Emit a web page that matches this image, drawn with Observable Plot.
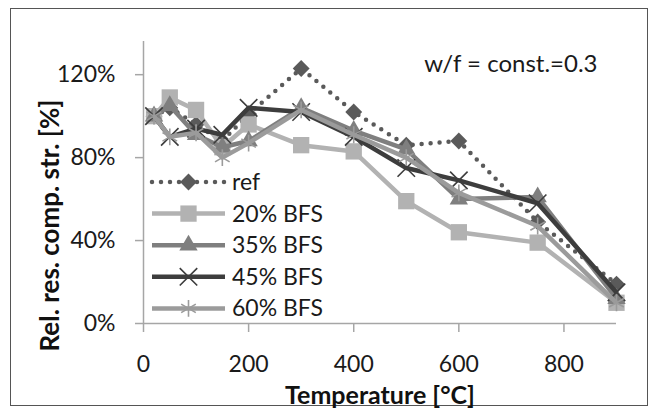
<!DOCTYPE html>
<html>
<head>
<meta charset="utf-8">
<script src="https://cdn.jsdelivr.net/npm/d3@7"></script>
<script src="https://cdn.jsdelivr.net/npm/@observablehq/plot@0.6"></script>
<style>
  html, body { margin: 0; padding: 0; background: #fff; }
  #wrap { position: relative; width: 655px; height: 414px; }
  #border { position: absolute; left: 10px; top: 8px; width: 636px; height: 396px; border: 1.5px solid #555; pointer-events: none; }
</style>
</head>
<body>
<div id="wrap"><div id="border"></div></div>
<script>
// ---- data (values in %) ----
const temperatures = [20, 50, 100, 150, 200, 300, 400, 500, 600, 750, 900];
const seriesNames = ["ref", "20% BFS", "35% BFS", "45% BFS", "60% BFS"];
const refValues   = [100, 104, 96, 88, 101, 123, 102, 86, 88, 49, 19];
const bfs20Values = [100, 109, 103, 85, 96, 86, 83, 59, 44, 39, 10];
const bfs35Values = [100, 105, 91, 85, 88, 104, 93, 84, 60, 61, 12];
const bfs45Values = [100, 90, 94, 91, 104, 102, 90, 75, 69, 58, 15];
const bfs60Values = [100, 90, 92, 80, 87, 103, 91, 80, 63, 47, 10];
const xTicks = [0, 200, 400, 600, 800];
const yTicks = [0, 0.4, 0.8, 1.2];
const annotation = "w/f = const.=0.3";
const xTitle = "Temperature [°C]";
const yTitle = "Rel. res. comp. str. [%]";

// ---- styles ----
const seriesValues = [refValues, bfs20Values, bfs35Values, bfs45Values, bfs60Values];
const colors  = ["#5a5a5a", "#b2b2b2", "#7f7f7f", "#3d3d3d", "#9b9b9b"];
const symbols = ["diamond2", "square", "triangle", "times", "asterisk"];
const radii   = [7.6, 9.2, 6.8, 8, 8];
const dashes  = ["0 9", null, null, null, null];

const rows = [];
seriesNames.forEach((s, i) => temperatures.forEach((t, j) =>
  rows.push({series: s, t, v: seriesValues[i][j] / 100})));

const FONT = "Lato, 'Open Sans', sans-serif";
const axisColor = "#a6a6a6";

const marks = [
  Plot.ruleX([0], {stroke: axisColor, strokeWidth: 1.5}),
  Plot.ruleY([0], {stroke: axisColor, strokeWidth: 1.5}),
  Plot.axisX({ticks: xTicks, tickSize: 9, tickPadding: 23, stroke: axisColor, strokeWidth: 1.5, label: null, fontSize: 23}),
  Plot.axisY({ticks: yTicks, tickFormat: d => Math.round(d * 100) + "%", tickSize: 8, tickPadding: 20, stroke: axisColor, strokeWidth: 1.5, label: null, fontSize: 23})
];

seriesNames.forEach((s, i) => {
  const data = rows.filter(r => r.series === s);
  marks.push(Plot.line(data, {
    x: "t", y: "v", stroke: colors[i], strokeWidth: 4.5,
    strokeDasharray: dashes[i] || undefined, strokeLinecap: dashes[i] ? "round" : "butt",
    strokeLinejoin: "round"
  }));
  const open = symbols[i] === "times" || symbols[i] === "asterisk";
  marks.push(Plot.dot(data, {
    x: "t", y: "v", symbol: () => symbols[i], r: radii[i],
    fill: open ? "none" : colors[i], stroke: open ? colors[i] : "none", strokeWidth: open ? 1.6 : 0
  }));
});

marks.push(
  Plot.text([annotation], {frameAnchor: "top-right", textAnchor: "end", lineAnchor: "middle", dx: -19, dy: 23, fontSize: 24, fill: "#1a1a1a"}),
  Plot.text([xTitle], {frameAnchor: "bottom", textAnchor: "middle", lineAnchor: "middle", dy: 72, fontSize: 25, fontWeight: "bold", fill: "#111"}),
  Plot.text([yTitle], {frameAnchor: "left", textAnchor: "middle", lineAnchor: "middle", rotate: -90, dx: -93, dy: 43, fontSize: 26, fontWeight: "bold", fill: "#111"})
);

const chart = Plot.plot({
  width: 655, height: 414,
  marginLeft: 143, marginRight: 39, marginTop: 41, marginBottom: 91,
  x: {domain: [0, 900]},
  y: {domain: [0, 1.36]},
  style: {fontFamily: FONT, fontSize: "23px", color: "#1a1a1a", background: "transparent"},
  marks
});

// ---- legend inside the plot, built from the series arrays ----
const svg = d3.select(chart);
const lg = svg.append("g").attr("transform", "translate(152,182)");
const symMap = {diamond2: d3.symbolDiamond2, square: d3.symbolSquare, triangle: d3.symbolTriangle, times: d3.symbolTimes, asterisk: d3.symbolAsterisk};
seriesNames.forEach((s, i) => {
  const g = lg.append("g").attr("transform", `translate(0,${i * 31.6})`);
  g.append("line").attr("x1", 0).attr("x2", 73).attr("y1", 0).attr("y2", 0)
    .attr("stroke", colors[i]).attr("stroke-width", 4.5)
    .attr("stroke-dasharray", dashes[i]).attr("stroke-linecap", dashes[i] ? "round" : "butt");
  const open = symbols[i] === "times" || symbols[i] === "asterisk";
  g.append("path").attr("transform", "translate(36.5,0)")
    .attr("d", d3.symbol(symMap[symbols[i]], Math.PI * radii[i] * radii[i])())
    .attr("fill", open ? "none" : colors[i]).attr("stroke", open ? colors[i] : "none").attr("stroke-width", 1.6);
  g.append("text").attr("x", 80).attr("y", 0).attr("dy", "0.35em").attr("text-anchor", "start")
    .attr("font-family", FONT).attr("font-size", 23).attr("fill", "#1a1a1a").text(s);
});

document.getElementById("wrap").appendChild(chart);
chart.style.position = "absolute"; chart.style.left = "0"; chart.style.top = "0";
</script>
</body>
</html>
